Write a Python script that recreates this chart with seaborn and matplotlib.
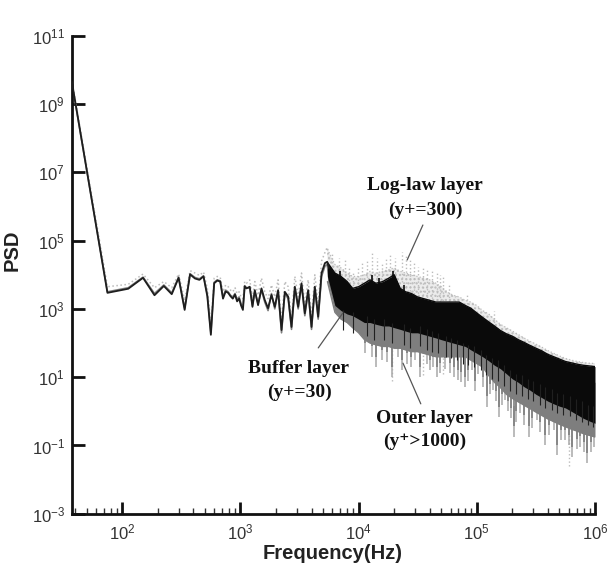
import numpy as np
import matplotlib
matplotlib.use("Agg")
import matplotlib.pyplot as plt
import seaborn as sns

# ---------------- data (PSD stored as log10 exponents) -------------
freq_line = [37.5, 75, 112.5, 150, 187.5, 225, 262.5, 300, 337.5, 375, 412.5, 450, 487.5,
             525, 562.5, 600, 637.5, 675, 712.5, 750, 787.5, 825, 862.5, 900, 937.5, 975,
             1012.5, 1050, 1087.5, 1125,
             1200, 1265, 1324, 1411, 1507, 1607, 1714, 1832, 1954, 2084, 2228, 2376, 2535,
             2706, 2888, 3081, 3289, 3508, 3743, 3997, 4264, 4550, 4859, 5188, 5423, 5600]

buffer_line = [9.65, 3.47, 3.59, 3.91, 3.40, 3.67, 3.43, 3.91, 2.97, 4.01, 3.89, 3.85, 3.95,
               3.37, 2.24, 3.75, 3.83, 3.80, 3.30, 3.51, 3.47, 3.37, 3.30, 3.42, 3.22, 3.30,
               3.10, 2.97, 3.66, 3.60,
               3.65, 3.06, 3.55, 3.11, 3.60, 3.26, 3.02, 3.41, 3.06, 3.55, 2.38, 3.50, 3.36,
               2.47, 3.65, 3.06, 3.75, 2.87, 3.55, 2.47, 3.65, 2.77, 4.05, 4.34, 4.38, 4.20]

outer_line = [9.62, 3.50, 3.62, 3.93, 3.45, 3.70, 3.47, 3.93, 3.02, 4.03, 3.92, 3.88, 3.97,
              3.42, 2.30, 3.78, 3.85, 3.82, 3.35, 3.55, 3.50, 3.40, 3.35, 3.45, 3.28, 3.35,
              3.15, 3.05, 3.68, 3.62,
              3.60, 3.10, 3.50, 3.15, 3.55, 3.20, 2.95, 3.45, 3.00, 3.50, 2.30, 3.45, 3.30,
              2.40, 3.60, 3.00, 3.70, 2.80, 3.50, 2.40, 3.60, 2.70, 3.95, 4.25, 4.30, 3.90]

loglaw_line = [9.70, 3.65, 3.72, 4.02, 3.62, 3.80, 3.62, 4.02, 3.25, 4.12, 4.05, 3.98, 4.08,
               3.60, 2.55, 3.90, 3.95, 3.92, 3.50, 3.70, 3.65, 3.55, 3.50, 3.62, 3.45, 3.50,
               3.35, 3.30, 3.80, 3.75,
               3.85, 3.30, 3.80, 3.40, 3.90, 3.50, 3.30, 3.70, 3.35, 3.85, 2.60, 3.80, 3.65,
               2.70, 3.95, 3.35, 4.05, 3.10, 3.85, 2.75, 4.00, 3.10, 4.40, 4.65, 4.80, 4.50]

freq_band = [5450, 6300, 7100, 8000, 8900, 10000, 11200, 12500, 14000, 16000, 18000, 20000,
             22500, 25000, 28000, 31500, 35500, 40000, 45000, 50000, 56000, 63000, 71000,
             80000, 89000, 100000, 112000, 126000, 141000, 158000, 178000, 200000, 224000,
             251000, 282000, 316000, 355000, 398000, 447000, 501000, 562000, 631000, 708000,
             794000, 891000, 1000000]

buffer_upper = [4.36, 4.05, 3.95, 3.8, 3.6, 3.65, 3.75, 3.85, 3.75, 3.8, 3.9, 4.0, 3.6, 3.5,
                3.45, 3.35, 3.3, 3.25, 3.2, 3.2, 3.2, 3.2, 3.2, 3.1, 3.02, 2.88, 2.75, 2.62,
                2.5, 2.37, 2.27, 2.2, 2.1, 2.02, 1.93, 1.85, 1.77, 1.67, 1.6, 1.53, 1.46,
                1.42, 1.38, 1.35, 1.33, 1.31]
buffer_lower = [3.95, 3.1, 2.95, 2.85, 2.8, 2.7, 2.6, 2.6, 2.55, 2.5, 2.5, 2.45, 2.4, 2.35,
                2.3, 2.3, 2.25, 2.2, 2.15, 2.1, 2.05, 2.0, 1.95, 1.9, 1.8, 1.7, 1.6, 1.48,
                1.35, 1.25, 1.1, 0.95, 0.85, 0.72, 0.62, 0.5, 0.4, 0.3, 0.22, 0.15, 0.1, 0.0,
                -0.1, -0.2, -0.28, -0.35]
outer_upper = [4.25, 3.75, 3.6, 3.5, 3.3, 3.35, 3.4, 3.5, 3.45, 3.5, 3.55, 3.6, 3.3, 3.2,
               3.15, 3.05, 3.0, 2.95, 2.9, 2.9, 2.9, 2.9, 2.9, 2.8, 2.7, 2.6, 2.45, 2.3,
               2.2, 2.05, 1.95, 1.85, 1.75, 1.65, 1.55, 1.45, 1.35, 1.25, 1.18, 1.1, 1.05,
               1.0, 0.95, 0.9, 0.88, 0.85]
outer_lower = [3.8, 2.9, 2.7, 2.6, 2.45, 2.3, 2.1, 2.0, 1.95, 1.9, 1.9, 1.85, 1.85, 1.8,
               1.75, 1.75, 1.7, 1.65, 1.6, 1.6, 1.6, 1.6, 1.6, 1.6, 1.5, 1.4, 1.3, 1.05,
               0.85, 0.7, 0.5, 0.38, 0.28, 0.18, 0.08, -0.02, -0.12, -0.22, -0.3, -0.38,
               -0.45, -0.52, -0.58, -0.65, -0.7, -0.75]
loglaw_upper = [4.75, 4.3, 4.2, 4.05, 3.95, 3.95, 4.0, 4.1, 4.05, 4.1, 4.15, 4.2, 4.1, 4.05,
                4.0, 3.95, 3.9, 3.85, 3.75, 3.65, 3.5, 3.4, 3.35, 3.25, 3.2, 3.1, 2.95, 2.85,
                2.7, 2.55, 2.45, 2.35, 2.25, 2.15, 2.05, 1.97, 1.88, 1.78, 1.7, 1.62, 1.55,
                1.5, 1.46, 1.43, 1.41, 1.4]
loglaw_lower = [4.3, 3.65, 3.55, 3.4, 3.2, 3.25, 3.35, 3.45, 3.4, 3.45, 3.5, 3.6, 3.3, 3.2,
                3.15, 3.05, 3.0, 2.95, 2.9, 2.9, 2.9, 2.9, 2.9, 2.8, 2.7, 2.6, 2.45, 2.3,
                2.2, 2.05, 1.95, 1.85, 1.75, 1.65, 1.55, 1.45, 1.35, 1.25, 1.18, 1.1, 1.05,
                1.0, 0.95, 0.9, 0.88, 0.85]

# downward spikes of the outer layer (frequency, lowest log10 PSD)
outer_spike_freq = [11300, 12900, 14000, 15700, 17500, 19000, 21700, 23500, 25500, 27500,
                    30000, 33100, 37700, 40000, 43000, 46000, 48900, 54000, 59400, 64000,
                    69800, 74000, 79600, 85000, 90800, 97000, 103000, 112000, 122000, 130000,
                    138000, 145000, 153000, 163000, 174000, 185000, 195000, 205000, 215000,
                    233000, 250000, 274000, 295000, 323000, 345000, 380000, 410000, 447000,
                    477000, 520000, 561000, 600000, 640000, 700000, 752000, 800000, 857000,
                    920000, 975000]
outer_spike_low = [1.7, 1.6, 1.3, 1.5, 1.45, 1.0, 1.6, 1.2, 1.4, 1.3, 1.5, 1.01, 1.4, 1.2,
                   1.3, 1.0, 1.12, 1.25, 1.12, 1.0, 0.92, 0.85, 0.72, 0.9, 1.21, 0.6, 1.1,
                   0.7, 0.14, 0.5, 0.63, 0.3, -0.16, 0.2, 0.33, 0.0, -0.2, -0.74, -0.3,
                   -0.05, -0.4, -0.74, -0.5, -0.25, -0.6, -0.99, -0.7, -0.55, -1.28, -0.85,
                   -0.84, -1.0, -1.33, -1.1, -1.03, -1.2, -1.51, -1.2, -1.03]

# downward spikes of the buffer layer
buffer_spike_freq = [7360, 8900, 11800, 13500, 16500, 19000, 24000, 27000, 33000, 38000,
                     42000, 47000, 55000, 61000, 68000, 76000, 85000, 95000, 108000, 120000,
                     135000, 150000, 170000, 190000, 215000, 240000, 270000, 300000, 340000,
                     380000, 430000, 480000, 540000, 610000, 690000, 780000, 870000, 960000]
buffer_spike_low = [2.38, 2.3, 2.2, 2.1, 2.1, 2.0, 1.95, 1.85, 1.9, 1.8, 1.75, 1.7, 1.6,
                    1.55, 1.5, 1.4, 1.35, 1.3, 1.2, 1.05, 0.95, 0.9, 0.75, 0.6, 0.5, 0.45,
                    0.35, 0.3, 0.2, 0.1, 0.05, -0.05, -0.1, -0.15, -0.25, -0.3, -0.4, -0.45]

# upward spikes of the buffer layer
buffer_up_freq = [7000, 12900, 15000, 19500, 24000]
buffer_up_top = [4.1, 4.0, 3.9, 4.1, 3.7]

# upward (dotted) spikes of the log-law layer
loglaw_up_freq = [6000, 6800, 7660, 8300, 9010, 9800, 10600, 11700, 12900, 14200, 15700,
                  17000, 18400, 20500, 23200, 25000, 27200, 29500, 32000, 34800, 37700,
                  41500, 45800, 48800, 52100, 58000, 65500, 82300, 140000]
loglaw_up_top = [4.6, 4.5, 4.43, 4.2, 4.05, 4.2, 4.34, 4.4, 4.63, 4.5, 4.3, 4.45, 4.58,
                 4.5, 4.68, 4.55, 4.43, 4.35, 4.24, 4.2, 4.14, 4.1, 4.05, 4.0, 3.94, 3.7,
                 3.36, 3.4, 2.95]

# downward (dotted) spikes of the log-law layer
loglaw_dn_freq = [19000, 35000, 52000, 600000]
loglaw_dn_low = [0.9, 1.05, 1.1, -1.6]

x_ticks = [1e2, 1e3, 1e4, 1e5, 1e6]
x_tick_labels = ["2", "3", "4", "5", "6"]
y_ticks = [1e-3, 1e-1, 1e1, 1e3, 1e5, 1e7, 1e9, 1e11]
y_tick_labels = ["-3", "-1", "1", "3", "5", "7", "9", "11"]

# ---------------- style -------------
sns.set_style("ticks")
plt.rcParams["font.family"] = ["Liberation Sans", "DejaVu Sans"]
plt.rcParams["axes.unicode_minus"] = False
plt.rcParams["hatch.linewidth"] = 1.0

C_BUF = "#0a0a0a"
C_OUT = "#7e7e7e"
C_OUT2 = "#a8a8a8"
C_LOG = "#bcbcbc"

fig = plt.figure(figsize=(6.09, 5.63), dpi=100)
ax = fig.add_axes([0.118, 0.0874, 0.859, 0.8492])
ax.set_xscale("log")
ax.set_yscale("log")


def p(v):
    return np.power(10.0, np.asarray(v, dtype=float))


SPIKE_LEN = 0.9  # decades, drawn from each spike's extreme point back into its band

# log-law layer (light, dotted)
ax.fill_between(freq_band, p(loglaw_lower), p(loglaw_upper), facecolor="#ececec",
                edgecolor=C_LOG, hatch="....", linewidth=0, zorder=1)
sns.lineplot(x=freq_band, y=p(loglaw_upper), ax=ax, color=C_LOG, lw=0.9, ls=":",
             sort=False, estimator=None, zorder=1)
sns.lineplot(x=freq_line, y=p(loglaw_line), ax=ax, color=C_LOG, lw=1.1, ls=":",
             sort=False, estimator=None, zorder=1)
ax.vlines(loglaw_up_freq, p(np.asarray(loglaw_up_top) - SPIKE_LEN), p(loglaw_up_top),
          color=C_LOG, lw=1.0, linestyles=":", zorder=1)
ax.vlines(loglaw_dn_freq, p(loglaw_dn_low), p(np.asarray(loglaw_dn_low) + SPIKE_LEN),
          color=C_LOG, lw=1.0, linestyles=":", zorder=1)

# outer layer (gray)
ol = np.asarray(outer_spike_low)
ax.vlines(outer_spike_freq, p(ol), p(ol + SPIKE_LEN), color=C_OUT2, lw=1.1, zorder=2)
ax.fill_between(freq_band, p(outer_lower), p(outer_upper), color=C_OUT, linewidth=0, zorder=2)
sns.lineplot(x=freq_band, y=p(outer_lower), ax=ax, color=C_OUT, lw=1.0,
             sort=False, estimator=None, zorder=2)
ax.vlines(outer_spike_freq, p(ol + 0.3), p(ol + SPIKE_LEN + 0.3), color=C_OUT, lw=1.2,
          zorder=2)
sns.lineplot(x=freq_line, y=p(outer_line), ax=ax, color=C_OUT, lw=1.2,
             sort=False, estimator=None, zorder=2)

# buffer layer (black)
ax.fill_between(freq_band, p(buffer_lower), p(buffer_upper), color=C_BUF, linewidth=0, zorder=3)
sns.lineplot(x=freq_band, y=p(buffer_upper), ax=ax, color=C_BUF, lw=1.0,
             sort=False, estimator=None, zorder=3)
sns.lineplot(x=freq_line, y=p(buffer_line), ax=ax, color="#1e1e1e", lw=1.3,
             sort=False, estimator=None, zorder=3)
bl = np.asarray(buffer_spike_low)
ax.vlines(buffer_spike_freq, p(bl), p(bl + 0.6), color="#202020", lw=0.8, zorder=3)
bu = np.asarray(buffer_up_top)
ax.vlines(buffer_up_freq, p(bu - SPIKE_LEN), p(bu), color=C_BUF, lw=1.2, zorder=3)

# ---------------- axes -------------
ax.set_xlim(37.5, 1e6)
ax.set_ylim(1e-3, 1e11)
for s in ["top", "right"]:
    ax.spines[s].set_visible(False)
for s in ["left", "bottom"]:
    ax.spines[s].set_linewidth(2.0)
    ax.spines[s].set_color("#111111")

ax.set_xticks(x_ticks)
ax.set_xticklabels([r"$\mathregular{10^{%s}}$" % t for t in x_tick_labels])
ax.xaxis.set_minor_locator(matplotlib.ticker.LogLocator(base=10, subs=np.arange(2, 10)))
ax.xaxis.set_minor_formatter(matplotlib.ticker.NullFormatter())
ax.set_yticks(y_ticks)
ax.set_yticklabels([r"$\mathregular{10^{%s}}$" % t for t in y_tick_labels])
ax.yaxis.set_minor_locator(matplotlib.ticker.NullLocator())

ax.tick_params(axis="both", which="major", direction="in", length=9, width=2,
               labelsize=12, colors="#111111", labelcolor="#333333")
ax.tick_params(axis="x", which="minor", direction="in", length=4.5, width=1, colors="#333333")
ax.tick_params(axis="x", which="major", pad=6)
ax.tick_params(axis="y", which="major", pad=5)

ax.set_xlabel("Frequency(Hz)", fontsize=14.5, fontweight="bold", color="#222222")
ax.set_ylabel("PSD", fontsize=14.5, fontweight="bold", color="#222222")
ax.xaxis.set_label_coords(0.499, -0.063)
ax.yaxis.set_label_coords(-0.096, 0.552)

# ---------------- annotations -------------
ser = ["Liberation Serif", "DejaVu Serif"]
tk = dict(transform=ax.transAxes, ha="center", va="center", fontsize=14,
          fontweight="bold", family=ser, color="#111111", zorder=5)
ax.text(0.675, 0.686, "Log-law layer", **tk)
ax.text(0.675, 0.635, "(y+=300)", **tk)
ax.text(0.434, 0.303, "Buffer layer", **tk)
ax.text(0.436, 0.253, "(y+=30)", **tk)
ax.text(0.673, 0.200, "Outer layer", **tk)
ax.text(0.675, 0.152, "(y\u207a>1000)", **tk)

lk = dict(transform=ax.transAxes, color="#555555", lw=0.9, zorder=5)
ax.plot([0.671, 0.641], [0.604, 0.531], **lk)
ax.plot([0.471, 0.518], [0.347, 0.420], **lk)
ax.plot([0.633, 0.667], [0.315, 0.230], **lk)

fig.savefig("out.png", dpi=100, facecolor="white")
